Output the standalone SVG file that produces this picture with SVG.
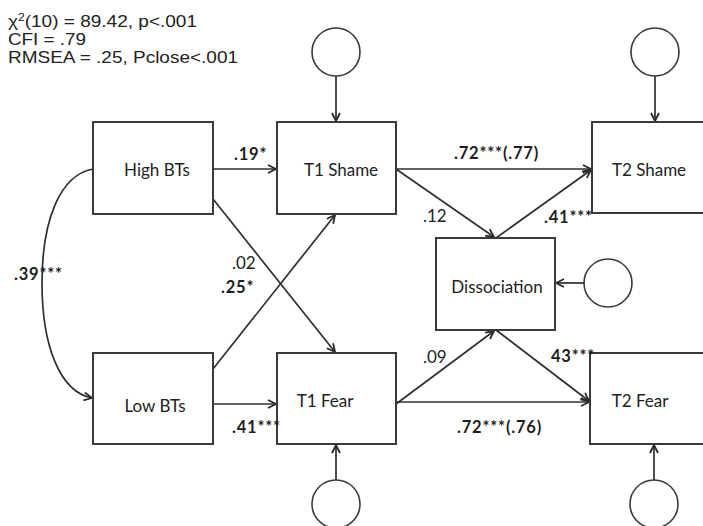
<svg xmlns="http://www.w3.org/2000/svg" width="703" height="526" viewBox="0 0 703 526">
<defs>
<marker id="arr" viewBox="0 0 10 10" refX="9" refY="5" markerWidth="10" markerHeight="10" markerUnits="userSpaceOnUse" orient="auto">
<path d="M1,1 L9,5 L1,9" fill="none" stroke="#2a2a2a" stroke-width="1.8" stroke-linejoin="miter"/>
</marker>
<style>
.box{fill:#fff;stroke:#3a3a3a;stroke-width:2}
.err{fill:#fff;stroke:#3a3a3a;stroke-width:1.6}
.ln{fill:none;stroke:#2f2f2f;stroke-width:1.7}
.ar{marker-end:url(#arr)}
.nl{font-family:Lato,"Open Sans",sans-serif;font-size:17px;fill:#222;text-anchor:middle}
.lb{font-family:Lato,"Open Sans",sans-serif;font-size:16.5px;font-weight:bold;fill:#1e1e1e;letter-spacing:0.8px}
.lr{font-family:Lato,"Open Sans",sans-serif;font-size:17px;fill:#222}
.hd{font-family:"Liberation Sans",Arial,sans-serif;font-size:16.5px;fill:#222}
</style>
</defs>
<rect width="703" height="526" fill="#fff"/>
<g id="fit">
<text class="hd" x="8" y="27" textLength="189" lengthAdjust="spacingAndGlyphs">χ<tspan font-size="10.5" dy="-6.5">2</tspan><tspan dy="6.5">(10) = 89.42, p&lt;.001</tspan></text>
<text class="hd" x="8" y="45" textLength="78" lengthAdjust="spacingAndGlyphs">CFI = .79</text>
<text class="hd" x="8" y="63" textLength="230" lengthAdjust="spacingAndGlyphs">RMSEA = .25, Pclose&lt;.001</text>
</g>
<g id="connectors">
<path class="ln ar" d="M93,169 C60,175 42,220 42,283 C42,346 60,392 92,398"/>
<path class="ln ar" d="M213,169 L276,169"/>
<path class="ln ar" d="M213,199 L335,352"/>
<path class="ln ar" d="M213,369 L335,215"/>
<path class="ln ar" d="M213,404 L276,404"/>
<path class="ln ar" d="M396,169 L591,169"/>
<path class="ln ar" d="M396,169 L494,237"/>
<path class="ln ar" d="M496,238 L591,170"/>
<path class="ln ar" d="M396,404 L494,331"/>
<path class="ln ar" d="M496,330 L589,401"/>
<path class="ln ar" d="M396,402 L589,402"/>
<path class="ln ar" d="M336,76 L336,121"/>
<path class="ln ar" d="M655,76 L655,121"/>
<path class="ln ar" d="M584,283 L556,283"/>
<path class="ln ar" d="M336,480 L336,445"/>
<path class="ln ar" d="M654,480 L654,445"/>
</g>
<g id="high-bts"><rect class="box" x="93" y="122" width="120" height="92"/><text class="nl" x="157" y="176">High BTs</text></g>
<g id="low-bts"><rect class="box" x="93" y="353" width="120" height="91"/><text class="nl" x="155" y="412">Low BTs</text></g>
<g id="t1-shame"><rect class="box" x="277" y="122" width="119" height="92"/><text class="nl" x="341" y="176">T1 Shame</text></g>
<g id="t1-fear"><rect class="box" x="277" y="353" width="119" height="91"/><text class="nl" x="325" y="407">T1 Fear</text></g>
<g id="dissociation"><rect class="box" x="436" y="238" width="119" height="92"/><text class="nl" x="497" y="293">Dissociation</text></g>
<g id="t2-shame"><rect class="box" x="592" y="122" width="130" height="91"/><text class="nl" x="649" y="176">T2 Shame</text></g>
<g id="t2-fear"><rect class="box" x="590" y="353" width="130" height="91"/><text class="nl" x="640" y="407">T2 Fear</text></g>
<g id="e-t1-shame"><circle class="err" cx="336" cy="52" r="24"/></g>
<g id="e-t2-shame"><circle class="err" cx="655" cy="52" r="24"/></g>
<g id="e-dissociation"><circle class="err" cx="608" cy="283" r="24"/></g>
<g id="e-t1-fear"><circle class="err" cx="336" cy="504" r="24"/></g>
<g id="e-t2-fear"><circle class="err" cx="654" cy="504" r="24"/></g>
<g id="labels">
<text class="lb" x="14" y="280">.39***</text>
<text class="lb" x="234" y="160">.19*</text>
<text class="lr" x="232" y="269">.02</text>
<text class="lb" x="221" y="293">.25*</text>
<text class="lb" x="232" y="433">.41***</text>
<text class="lb" x="454" y="159">.72***(.77)</text>
<text class="lr" x="423" y="222">.12</text>
<text class="lb" x="544" y="223">.41***</text>
<text class="lr" x="423" y="363">.09</text>
<text class="lb" x="551" y="362">43***</text>
<text class="lb" x="457" y="433">.72***(.76)</text>
</g>
</svg>
